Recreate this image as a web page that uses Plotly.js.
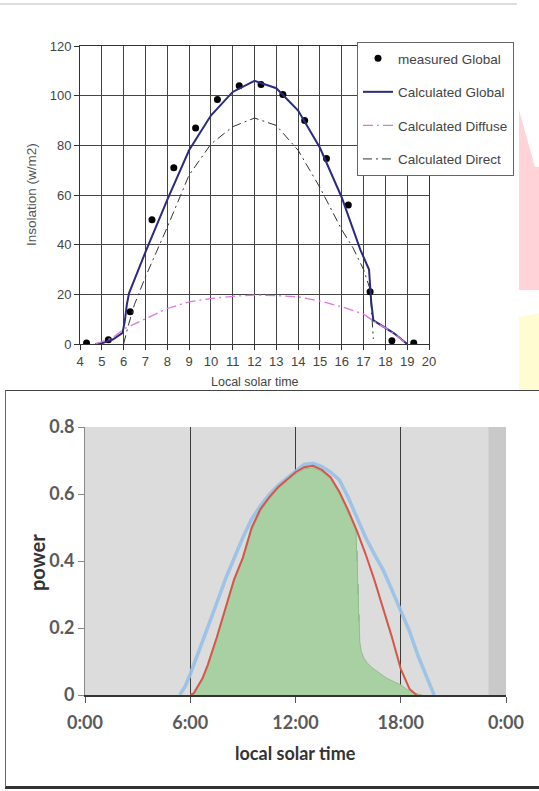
<!DOCTYPE html>
<html><head><meta charset="utf-8">
<script src="https://cdn.plot.ly/plotly-3.0.1.min.js"></script>
<style>
html,body{margin:0;padding:0;background:#fff;width:539px;height:791px;overflow:hidden;}
#top{position:absolute;left:0;top:0;width:539px;height:390px;overflow:hidden;}
#bottom{position:absolute;left:0;top:390px;width:539px;height:401px;overflow:hidden;}
#frame{position:absolute;left:5px;top:390px;width:534px;height:395px;border-top:1px solid #444;border-left:1px solid #666;border-bottom:3px solid #333;pointer-events:none;}
</style></head><body>
<div id="top"><div id="chart1"></div></div>
<div id="bottom"><div id="chart2"></div></div>
<div id="frame"></div>
<script>
// ---------- top chart data ----------
const measTime = [4.3, 5.3, 6.3, 7.3, 8.3, 9.3, 10.3, 11.3, 12.3, 13.3, 14.3, 15.3, 16.3, 17.3, 18.3, 19.3];
const measGlobal = [0.4, 1.7, 13, 50, 71, 87, 98.5, 104, 104.5, 100.5, 90, 74.7, 56, 21, 1.3, 0.4];

const globTime = [4.7, 5.0, 5.5, 5.95, 6.05, 6.15, 6.25, 6.5, 7, 8, 9, 10, 11, 12, 13, 14, 15, 16, 16.85, 17.25, 17.35, 17.45, 17.9, 18.4, 19.0];
const calcGlobal = [0, 0.3, 1.8, 4.5, 9, 16, 20.5, 26, 37, 58, 78, 92, 101.5, 106, 103, 94, 79, 59, 38, 30, 17, 9.5, 7, 4.3, 0];

const diffTime = [4.7, 5.5, 6, 6.5, 7, 8, 9, 10, 11, 12, 13, 14, 15, 16, 17, 17.5, 18, 18.5, 19];
const calcDiffuse = [0, 2.5, 6, 8, 10.3, 14.3, 17, 18.3, 19.2, 19.7, 19.5, 19, 17.3, 15, 12, 9, 6.5, 3.5, 0];

const dirTime = [6.0, 6.2, 6.5, 7, 7.5, 8, 9, 10, 11, 12, 13, 14, 15, 16, 16.5, 17, 17.3, 17.45];
const calcDirect = [0, 7, 16, 27, 37, 47, 68, 80.5, 87.5, 91, 88, 78, 63, 46, 39, 30, 22, 2];

const topXTicks = [4,5,6,7,8,9,10,11,12,13,14,15,16,17,18,19,20];
const topYTicks = [0,20,40,60,80,100,120];

// ---------- bottom chart data ----------
const redTime = [6.0, 6.2, 6.7, 7.0, 7.5, 8.0, 8.5, 9.0, 9.5, 10.0, 10.5, 11.0, 11.5, 12.0, 12.5, 13.0, 13.5, 14.0, 14.5, 15.0, 15.5, 16.0, 16.5, 17.0, 17.5, 18.0, 18.5, 18.9];
const redPower = [0, 0.005, 0.05, 0.09, 0.17, 0.26, 0.345, 0.41, 0.5, 0.555, 0.59, 0.62, 0.643, 0.665, 0.68, 0.684, 0.672, 0.65, 0.607, 0.552, 0.49, 0.42, 0.343, 0.26, 0.172, 0.078, 0.018, 0];

const blueTime = [5.4, 5.7, 6.0, 6.5, 7.0, 7.5, 8.0, 8.5, 9.0, 9.5, 10.0, 10.5, 11.0, 11.5, 12.0, 12.5, 13.0, 13.5, 14.0, 14.5, 15.0, 15.5, 16.0, 16.5, 17.0, 17.5, 18.0, 18.5, 19.0, 19.5, 19.9];
const bluePower = [0, 0.025, 0.062, 0.13, 0.2, 0.273, 0.345, 0.41, 0.47, 0.525, 0.565, 0.598, 0.625, 0.647, 0.668, 0.688, 0.692, 0.682, 0.665, 0.642, 0.59, 0.53, 0.47, 0.42, 0.373, 0.313, 0.253, 0.19, 0.115, 0.05, 0];

const greenTime = [6.0, 6.2, 6.7, 7.0, 7.5, 8.0, 8.5, 9.0, 9.5, 10.0, 10.5, 11.0, 11.5, 12.0, 12.5, 13.0, 13.5, 14.0, 14.5, 15.0, 15.3, 15.45, 15.5, 15.52, 15.55, 15.58, 15.6, 15.63, 15.66, 15.75, 15.9, 16.1, 16.4, 16.8, 17.2, 17.6, 18.0, 18.4, 18.8, 19.2];
const greenPower = [0, 0.003, 0.045, 0.085, 0.165, 0.255, 0.34, 0.405, 0.49, 0.548, 0.585, 0.615, 0.638, 0.66, 0.675, 0.678, 0.667, 0.645, 0.6, 0.545, 0.51, 0.49, 0.40, 0.43, 0.30, 0.33, 0.22, 0.24, 0.16, 0.13, 0.11, 0.095, 0.08, 0.065, 0.05, 0.04, 0.03, 0.015, 0.005, 0];

const botXTicks = [0, 6, 12, 18, 24];
const botXLabels = ['0:00', '6:00', '12:00', '18:00', '0:00'];
const botYTicks = [0, 0.2, 0.4, 0.6, 0.8];
const nightBand = [23, 24];

// ---------- top chart ----------
const P1 = {l: 80, t: 46, w: 349, h: 298};
const px = x => (x - P1.l) / P1.w;
const py = y => 1 - (y - P1.t) / P1.h;
const ARIAL = 'Liberation Sans, Arial, sans-serif';

const traces1 = [
  {x: measTime, y: measGlobal, mode: 'markers', name: 'measured Global', legendgroup: 'a',
   marker: {color: '#000', size: 7}},
  {x: globTime, y: calcGlobal, mode: 'lines', name: 'Calculated Global', legendgroup: 'b',
   line: {color: '#2b2b80', width: 2}},
  {x: diffTime, y: calcDiffuse, mode: 'lines', name: 'Calculated Diffuse', legendgroup: 'c',
   line: {color: '#de78de', width: 1.3, dash: '10px,4px,2px,4px'}},
  {x: dirTime, y: calcDirect, mode: 'lines', name: 'Calculated Direct', legendgroup: 'd',
   line: {color: '#333', width: 1, dash: '9px,4px,2px,4px'}}
];

const layout1 = {
  width: 539, height: 400,
  margin: {l: P1.l, r: 539 - P1.l - P1.w, t: P1.t, b: 400 - P1.t - P1.h},
  paper_bgcolor: '#fff', plot_bgcolor: '#fff',
  font: {family: ARIAL, size: 13, color: '#444'},
  xaxis: {range: [4, 20], tickvals: topXTicks, showgrid: true, gridcolor: '#444', gridwidth: 1,
    zeroline: false, showline: true, linecolor: '#333', mirror: true, ticks: 'outside', ticklen: 5,
    tickcolor: '#333', tickfont: {family: ARIAL, size: 13, color: '#444'}},
  yaxis: {range: [0, 120], tickvals: topYTicks, showgrid: true, gridcolor: '#444', gridwidth: 1,
    zeroline: false, showline: true, linecolor: '#333', mirror: true, ticks: 'outside', ticklen: 5,
    tickcolor: '#333', tickfont: {family: ARIAL, size: 13, color: '#444'}},
  showlegend: true,
  legend: {x: px(357), y: py(42), xanchor: 'left', yanchor: 'top', bgcolor: '#fff',
    bordercolor: '#666', borderwidth: 1, font: {family: ARIAL, size: 13.5, color: '#444'},
    tracegroupgap: 13, traceorder: 'grouped'},
  annotations: [
    {text: 'Insolation (w/m2)', xref: 'paper', yref: 'paper', x: px(31), y: 0.5, textangle: -90,
     xanchor: 'center', yanchor: 'middle',
     showarrow: false, font: {family: ARIAL, size: 13.5, color: '#555'}},
    {text: 'Local solar time', xref: 'paper', yref: 'paper', x: 0.5, y: py(382),
     xanchor: 'center', yanchor: 'middle',
     showarrow: false, font: {family: ARIAL, size: 12.5, color: '#444'}}
  ],
  shapes: [
    {type: 'line', xref: 'paper', yref: 'paper', x0: px(0), x1: px(517), y0: py(4), y1: py(4),
     line: {color: '#bbb', width: 1}},
    {type: 'path', xref: 'paper', yref: 'paper',
     path: `M ${px(519)} ${py(110)} L ${px(535)} ${py(167)} L ${px(540)} ${py(167)} L ${px(540)} ${py(290)} L ${px(519)} ${py(290)} Z`,
     fillcolor: '#ffd3d8', line: {width: 0}},
    {type: 'path', xref: 'paper', yref: 'paper',
     path: `M ${px(519)} ${py(317)} L ${px(540)} ${py(313)} L ${px(540)} ${py(400)} L ${px(519)} ${py(400)} Z`,
     fillcolor: '#fffcd2', line: {width: 0}}
  ]
};

Plotly.newPlot('chart1', traces1, layout1, {displayModeBar: false, staticPlot: true});

// ---------- bottom chart ----------
const LATO = 'Lato, Open Sans, sans-serif';
const P2 = {l: 85, t: 37, w: 421, h: 268};
const qx = x => (x - P2.l) / P2.w;
const qy = y => 1 - (y - P2.t) / P2.h;

const traces2 = [
  {x: greenTime, y: greenPower, mode: 'lines', fill: 'tozeroy', fillcolor: '#a9d0a2',
   line: {color: '#8fbf8c', width: 1}, showlegend: false},
  {x: blueTime, y: bluePower, mode: 'lines', line: {color: 'rgba(150,192,232,0.9)', width: 3.5},
   showlegend: false},
  {x: redTime, y: redPower, mode: 'lines', line: {color: '#d4574c', width: 2}, showlegend: false}
];

const layout2 = {
  width: 539, height: 401,
  margin: {l: P2.l, r: 539 - P2.l - P2.w, t: P2.t, b: 401 - P2.t - P2.h},
  paper_bgcolor: 'rgba(0,0,0,0)', plot_bgcolor: '#dcdcdc',
  xaxis: {range: [0, 24], tickvals: botXTicks, ticktext: botXLabels, showgrid: true,
    gridcolor: '#3c3c3c', gridwidth: 1, zeroline: false, showline: true, linecolor: '#333', linewidth: 1.5,
    ticks: 'outside', ticklen: 6, tickcolor: '#555', ticklabelstandoff: 5,
    tickfont: {family: LATO, size: 18, color: '#5a5a5a', weight: 'bold'}},
  yaxis: {range: [0, 0.8], tickvals: botYTicks, showgrid: false, zeroline: false, showline: true,
    linecolor: '#8a8a8a', ticks: 'outside', ticklen: 6, tickcolor: '#888',
    tickfont: {family: LATO, size: 18, color: '#5a5a5a', weight: 'bold'}},
  annotations: [
    {text: 'power', xref: 'paper', yref: 'paper', x: qx(37), y: qy(563 - 390), textangle: -90,
     xanchor: 'center', yanchor: 'middle',
     showarrow: false, font: {family: LATO, size: 20, color: '#333', weight: 'bold'}},
    {text: 'local solar time', xref: 'paper', yref: 'paper', x: 0.5, y: qy(753 - 390),
     xanchor: 'center', yanchor: 'middle',
     showarrow: false, font: {family: LATO, size: 18, color: '#333', weight: 'bold'}}
  ],
  shapes: [
    {type: 'rect', xref: 'x', yref: 'y', x0: nightBand[0], x1: nightBand[1], y0: 0, y1: 0.8,
     fillcolor: '#c9c9c9', line: {width: 0}, layer: 'below'}
  ]
};

Plotly.newPlot('chart2', traces2, layout2, {displayModeBar: false, staticPlot: true});
</script>
</body></html>
